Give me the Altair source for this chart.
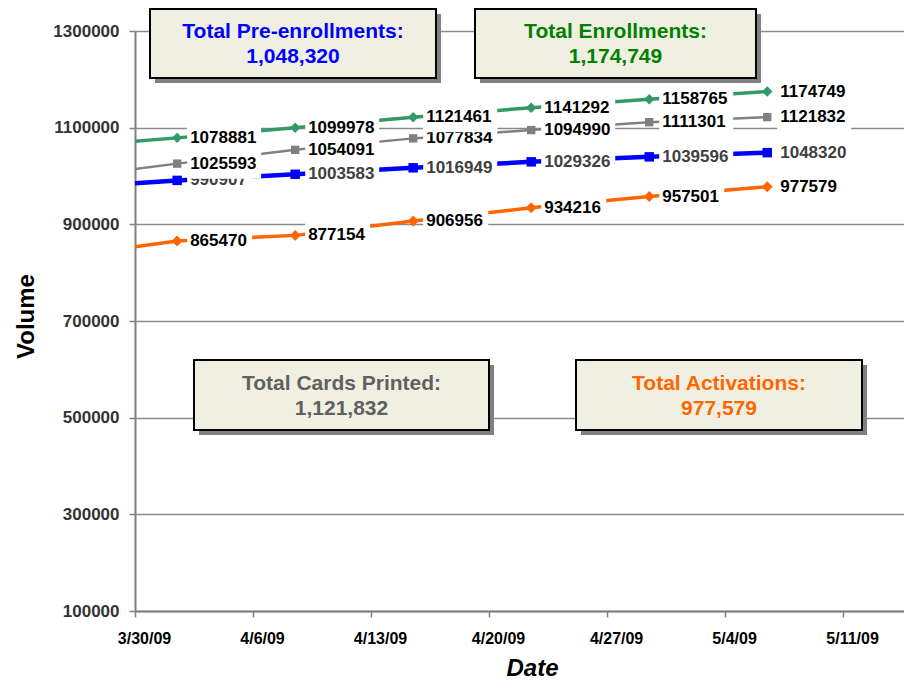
import altair as alt
import pandas as pd

# ---------------- data ----------------
dates = ["2009-03-25T12:00:00", "2009-04-01T12:00:00", "2009-04-08T12:00:00",
         "2009-04-15T12:00:00", "2009-04-22T12:00:00", "2009-04-29T12:00:00",
         "2009-05-06T12:00:00"]
series_names = ["Pre-enrollments", "Cards Printed", "Enrollments", "Activations"]
pre_enrollments = [974300, 990907, 1003583, 1016949, 1029326, 1039596, 1048320]
cards_printed = [995000, 1025593, 1054091, 1077834, 1094990, 1111301, 1121832]
enrollments = [1059500, 1078881, 1099978, 1121461, 1141292, 1158765, 1174749]
activations = [832700, 865470, 877154, 906956, 934216, 957501, 977579]
box_titles = ["Total Pre-enrollments:", "Total Enrollments:",
              "Total Cards Printed:", "Total Activations:"]
box_series = ["Pre-enrollments", "Enrollments", "Cards Printed", "Activations"]
x_tick_days = [(3, 30), (4, 6), (4, 13), (4, 20), (4, 27), (5, 4), (5, 11)]
y_ticks = [100000, 300000, 500000, 700000, 900000, 1100000, 1300000]

values = {"Pre-enrollments": pre_enrollments, "Cards Printed": cards_printed,
          "Enrollments": enrollments, "Activations": activations}

rows = []
for s in series_names:
    for d, v in zip(dates, values[s]):
        rows.append({"date": d, "value": v, "series": s})
df = pd.DataFrame(rows)
df_lab = df[df["date"] >= "2009-03-30"].reset_index(drop=True)

box_totals = [f"{values[s][-1]:,}" for s in box_series]

# ---------------- styles ----------------
FONT = "Liberation Sans"
style = {
    "Pre-enrollments": dict(color="#0000FF", sw=4.5, shape="square", size=90, lab="#404040"),
    "Cards Printed": dict(color="#808080", sw=2.5, shape="square", size=70, lab="#000000"),
    "Enrollments": dict(color="#339966", sw=3.5, shape="diamond", size=110, lab="#000000"),
    "Activations": dict(color="#FF6600", sw=3.5, shape="diamond", size=120, lab="#000000"),
}
box_text_color = {"Pre-enrollments": "#0000FF", "Enrollments": "#008000",
                  "Cards Printed": "#606060", "Activations": "#FF6600"}
# box layout in plot pixels: x1, x2, y1, y2
box_pos = [(15, 301, -22, 47), (340, 621, -22, 47), (59, 354, 329, 399), (441, 727, 329, 399)]

xscale = alt.Scale(domain=[alt.DateTime(year=2009, month=3, date=30),
                           alt.DateTime(year=2009, month=5, date=14, hours=14, minutes=40)],
                   nice=False)
yscale = alt.Scale(domain=[100000, 1300000], nice=False, zero=False)

xaxis = alt.Axis(values=[alt.DateTime(year=2009, month=m, date=d) for m, d in x_tick_days],
                 format="%-m/%-d/%y", labelOffset=9, labelPadding=21, labelBaseline="middle",
                 labelFont=FONT, labelFontSize=16, labelFontWeight="bold", labelColor="#000000",
                 labelOverlap=False, labelFlush=False,
                 tickSize=6, tickColor="#808080", tickWidth=1.5,
                 domainColor="#808080", domainWidth=2, grid=False,
                 title="Date", titleFont=FONT, titleFontSize=24, titleFontWeight="bold",
                 titleFontStyle="italic", titleColor="#000000",
                 titleX=397, titleY=64, titleBaseline="alphabetic", titleAlign="center")
yaxis = alt.Axis(values=y_ticks, format="d",
                 labelFont=FONT, labelFontSize=17, labelFontWeight="bold", labelColor="#333333",
                 labelPadding=10, tickSize=6, tickColor="#808080", tickWidth=1.5,
                 domainColor="#808080", domainWidth=2,
                 grid=True, gridColor="#8a8a8a", gridWidth=1.5,
                 title="Volume", titleFont=FONT, titleFontSize=24, titleFontWeight="bold",
                 titleColor="#000000", titleAngle=270, titleX=-102, titleY=285,
                 titleBaseline="alphabetic", titleAlign="center")

X = alt.X("date:T", scale=xscale, axis=xaxis)
Y = alt.Y("value:Q", scale=yscale, axis=yaxis)

layers = []
# lines and markers
for s in series_names:
    st = style[s]
    base = alt.Chart(df).transform_filter(alt.datum.series == s)
    layers.append(base.mark_line(color=st["color"], strokeWidth=st["sw"], clip=True)
                  .encode(x=X, y=Y))
    layers.append(base.mark_point(shape=st["shape"], size=st["size"], filled=True,
                                  color=st["color"], opacity=1, clip=True)
                  .encode(x=X, y=Y))

# data labels with white boxes
for s in series_names:
    st = style[s]
    base = alt.Chart(df_lab).transform_filter(alt.datum.series == s)
    for nd, right in [(7, 84), (6, 75)]:
        layers.append(
            base.transform_filter(f"length(toString(datum.value)) == {nd}")
            .mark_rect(color="white", xOffset=10, x2Offset=right, yOffset=-15, y2Offset=15)
            .encode(x=X, x2=alt.X2("date:T"), y=Y, y2=alt.Y2("value:Q"))
        )
    layers.append(
        base.mark_text(align="left", baseline="middle", dx=13, font=FONT, fontSize=17,
                       fontWeight="bold", color=st["lab"])
        .encode(x=X, y=Y, text=alt.Text("value:Q", format="d"))
    )

# annotation boxes
one = pd.DataFrame({"k": [0]})
for (x1, x2, y1, y2), title, total, s in zip(box_pos, box_titles, box_totals, box_series):
    layers.append(alt.Chart(one).mark_rect(color="#808080").encode(
        x=alt.value(x1 + 5), x2=alt.value(x2 + 5), y=alt.value(y1 + 5), y2=alt.value(y2 + 5)))
    layers.append(alt.Chart(one).mark_rect(fill="#F0F0E2", stroke="#000000", strokeWidth=2).encode(
        x=alt.value(x1), x2=alt.value(x2), y=alt.value(y1), y2=alt.value(y2)))
    cx = (x1 + x2) / 2
    cy = (y1 + y2) / 2
    for txt, dyv in [(title, -11.5), (total, 13.5)]:
        layers.append(alt.Chart(one).mark_text(align="center", baseline="middle", font=FONT,
                                               fontSize=21, fontWeight="bold",
                                               color=box_text_color[s])
                      .encode(x=alt.value(cx), y=alt.value(cy + dyv), text=alt.value(txt)))

chart = alt.layer(*layers).properties(
    width=769, height=580,
    autosize=alt.AutoSizeParams(type="none"),
    padding={"left": 127, "top": 23, "right": 0, "bottom": 69},
).configure_view(stroke=None).configure(background="white")

chart.save("out.html", embed_options={"renderer": "svg", "actions": False})
